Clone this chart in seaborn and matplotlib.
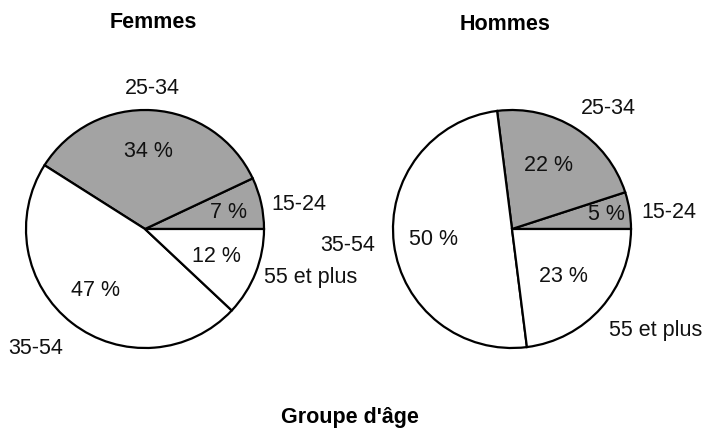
import matplotlib
matplotlib.use("Agg")
import matplotlib.pyplot as plt
import seaborn as sns

sns.set_theme(style="white")
plt.rcParams["font.family"] = ["Liberation Sans", "DejaVu Sans"]
plt.rcParams["text.color"] = "black"

# Age groups, in drawing order (counter-clockwise from 3 o'clock)
groups = ["15-24", "25-34", "35-54", "55 et plus"]
femmes = [7, 34, 47, 12]
hommes = [5, 22, 50, 23]
panel_titles = ["Femmes", "Hommes"]
x_title = "Groupe d'âge"

grey = "#a3a3a3"
colors = [grey, grey, "white", "white"]

W, H = 704, 428
R = 119  # pie radius in pixels
FS = 15.5
fig = plt.figure(figsize=(W / 100, H / 100), dpi=100)

# label placement (in pie-radius units) for each panel
pct_pos = [
    [(0.70, 0.14), (0.025, 0.65), (-0.42, -0.52), (0.60, -0.235)],
    [(0.79, 0.12), (0.31, 0.53), (-0.66, -0.09), (0.43, -0.40)],
]
name_pos = [
    [(1.29, 0.21), (0.06, 1.18), (-0.92, -1.00), (1.39, -0.41)],
    [(1.32, 0.14), (0.81, 1.01), (-1.38, -0.14), (1.21, -0.85)],
]
centers = [(145, 229), (512, 229)]

half = 140
lim = half / R
for k, vals in enumerate([femmes, hommes]):
    cx, cy = centers[k]
    ax = fig.add_axes([(cx - half) / W, (H - cy - half) / H, 2 * half / W, 2 * half / H])
    ax.pie(vals, colors=colors, startangle=0, counterclock=True, radius=1,
           wedgeprops=dict(edgecolor="black", linewidth=1.6))
    ax.set_xlim(-lim, lim)
    ax.set_ylim(-lim, lim)
    ax.set_aspect("equal")
    ax.axis("off")
    for i, v in enumerate(vals):
        px, py = pct_pos[k][i]
        ax.text(px, py, f"{v} %", ha="center", va="center", fontsize=FS, color="#111111")
        nx, ny = name_pos[k][i]
        ax.text(nx, ny, groups[i], ha="center", va="center", fontsize=FS, color="#111111")

fig.text(153 / W, 1 - 22 / H, panel_titles[0], ha="center", va="center",
         fontsize=FS, fontweight="bold", color="black")
fig.text(505 / W, 1 - 24 / H, panel_titles[1], ha="center", va="center",
         fontsize=FS, fontweight="bold", color="black")
fig.text(350 / W, 1 - 418 / H, x_title, ha="center", va="center",
         fontsize=FS, fontweight="bold", color="black")

fig.savefig("out.png", dpi=100, facecolor="white")
